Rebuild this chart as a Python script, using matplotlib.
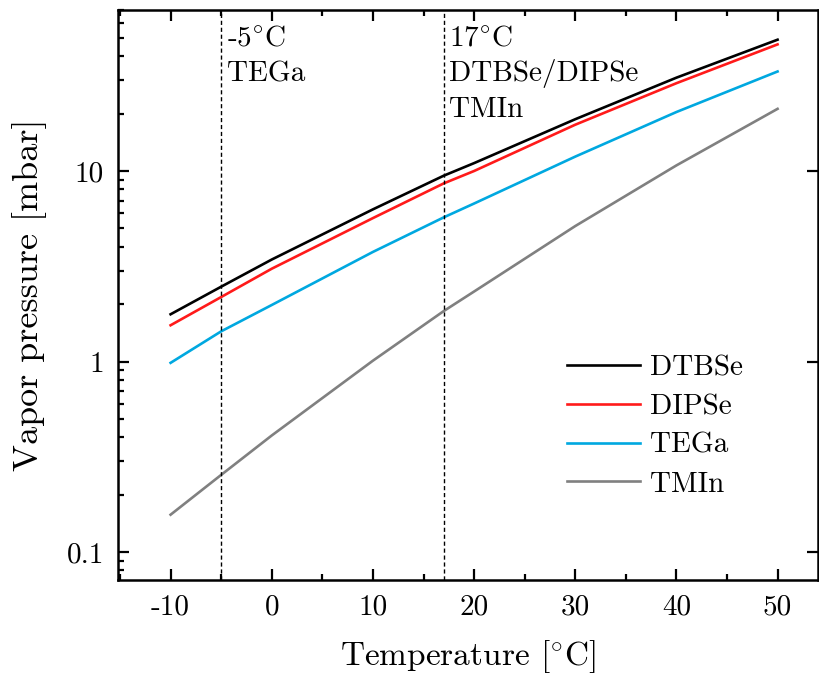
import matplotlib
matplotlib.use("Agg")
import matplotlib.pyplot as plt
from matplotlib.ticker import FixedLocator, FuncFormatter, MultipleLocator, LogLocator, NullFormatter

plt.rcParams["font.family"] = "serif"
plt.rcParams["font.serif"] = ["cmr10", "DejaVu Serif"]
plt.rcParams["mathtext.fontset"] = "cm"
plt.rcParams["axes.unicode_minus"] = False

# temperatures [°C] and vapor pressures [mbar]
temps = [-10, -5, 0, 10, 17, 20, 30, 40, 50]
dtbse = [1.77, 2.47, 3.43, 6.29, 9.45, 11.0, 18.7, 30.9, 48.9]
dipse = [1.55, 2.18, 3.07, 5.66, 8.61, 10.0, 17.5, 28.9, 46.2]
tega = [0.984, 1.44, 1.98, 3.76, 5.71, 6.75, 11.9, 20.4, 33.3]
tmin = [0.157, 0.254, 0.409, 1.01, 1.84, 2.33, 5.14, 10.7, 21.2]

series_names = ["DTBSe", "DIPSe", "TEGa", "TMIn"]
series_colors = ["black", "#ff1a1a", "#00a8e0", "#808080"]

marker_temps = [-5, 17]
marker_labels = [["-5$^{\\circ}$C", "TEGa"],
                 ["17$^{\\circ}$C", "DTBSe/DIPSe", "TMIn"]]

fig = plt.figure(figsize=(8.2, 6.77), dpi=100)
ax = fig.add_axes([0.1439, 0.1433, 0.8537, 0.8419])

for name, vals, col in zip(series_names, [dtbse, dipse, tega, tmin], series_colors):
    ax.plot(temps, vals, color=col, lw=1.9, label=name)

for t, lines in zip(marker_temps, marker_labels):
    ax.axvline(t, color="black", lw=1.0, ls=(0, (3, 2)))
    for i, txt in enumerate(lines):
        ax.text(t + 0.55, 0.9386 - i * 0.0632, txt, fontsize=21,
                transform=ax.get_xaxis_transform(), va="baseline", ha="left")

ax.set_yscale("log")
ax.set_xlim(-15.2, 54)
ax.set_ylim(0.0713, 70)

ax.xaxis.set_major_locator(MultipleLocator(10))
ax.xaxis.set_minor_locator(MultipleLocator(5))
ax.xaxis.set_major_formatter(FuncFormatter(lambda v, p: "%g" % v))
ax.yaxis.set_major_locator(FixedLocator([0.1, 1, 10]))
ax.yaxis.set_major_formatter(FuncFormatter(lambda v, p: "%g" % v))
ax.yaxis.set_minor_locator(LogLocator(base=10, subs=range(2, 10)))
ax.yaxis.set_minor_formatter(NullFormatter())

ax.tick_params(which="both", direction="in", top=True, right=True, width=1.6, labelsize=21)
ax.tick_params(which="major", length=8, pad=10)
ax.tick_params(which="minor", length=4)
ax.tick_params(axis="y", which="minor", right=False)
for s in ax.spines.values():
    s.set_linewidth(1.8)

ax.set_xlabel("Temperature [$^{\\circ}$C]", fontsize=24, labelpad=13)
ax.set_ylabel("Vapor pressure [mbar]", fontsize=26, labelpad=14)

ax.legend(loc="upper left", bbox_to_anchor=(0.62, 0.42), frameon=False, fontsize=21,
          handlelength=2.5, handletextpad=0.35, labelspacing=0.42, borderpad=0)

fig.savefig("out.png", dpi=100)
